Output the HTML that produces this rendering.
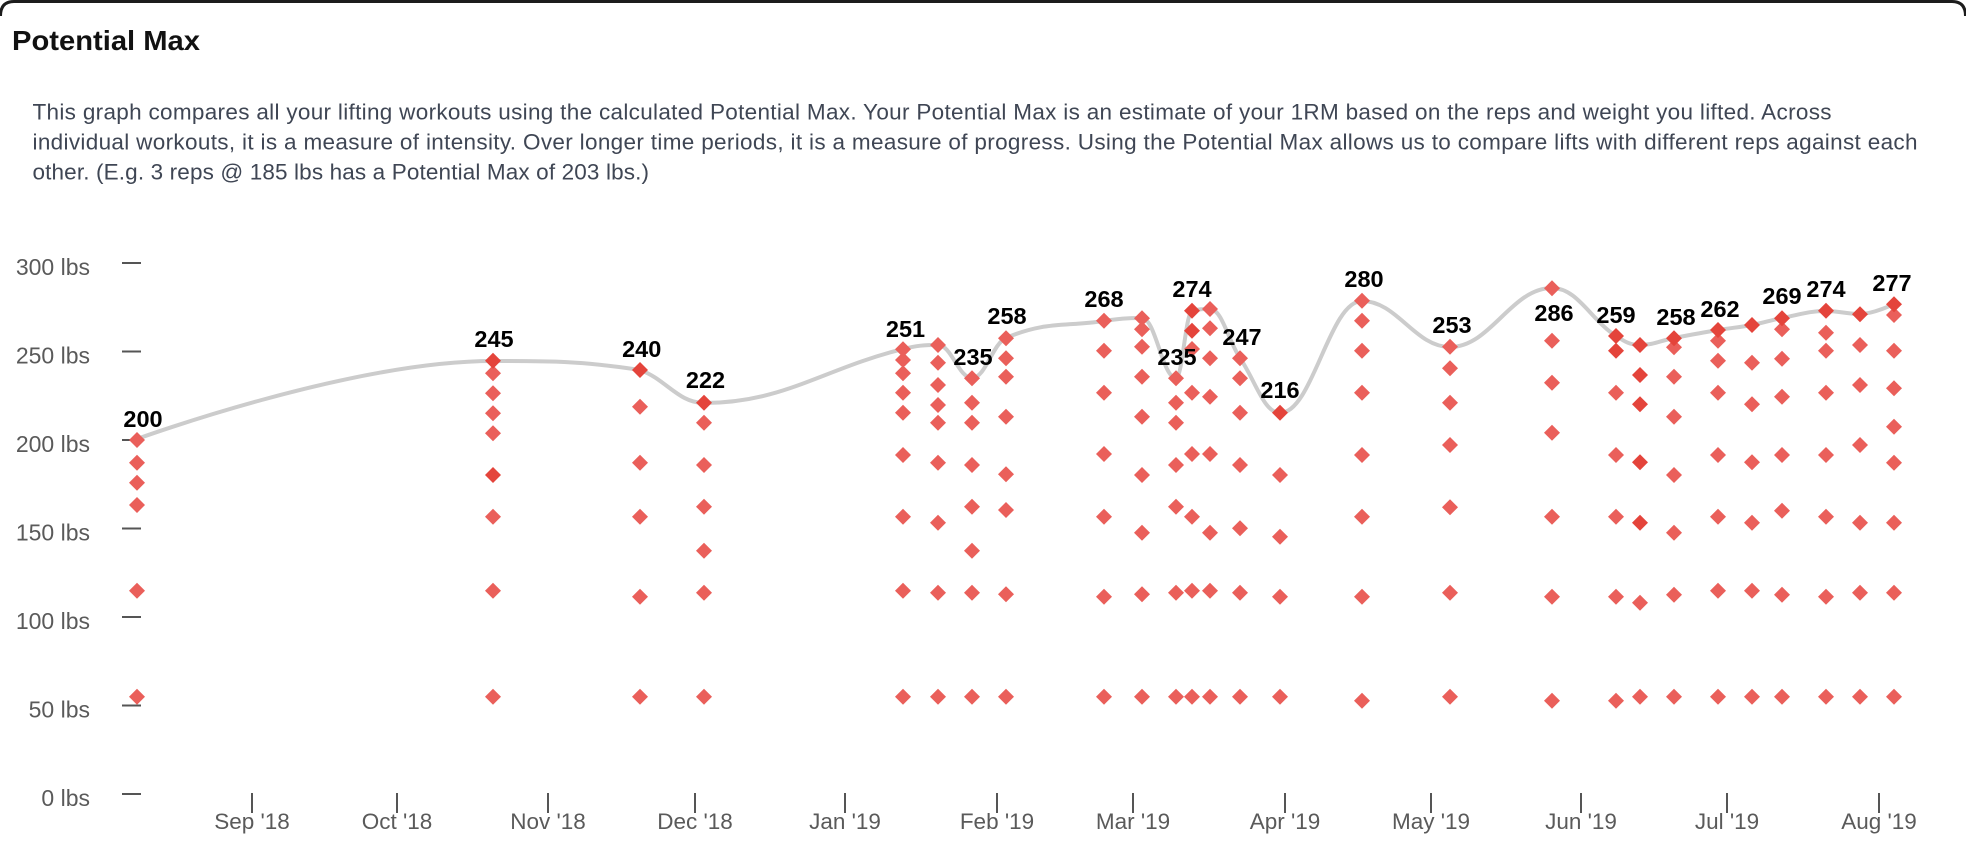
<!DOCTYPE html>
<html><head><meta charset="utf-8"><style>
html,body{margin:0;padding:0;background:#fff;width:1966px;height:853px;overflow:hidden;}
svg{display:block;}
</style></head><body>
<svg width="1966" height="853" viewBox="0 0 1966 853" xmlns="http://www.w3.org/2000/svg">
<rect x="0" y="0" width="1966" height="853" fill="#fff"/>
<path d="M0.5,16 Q0.5,1.5 14,1.5 L1952,1.5 Q1965.5,1.5 1965.5,16" fill="none" stroke="#1c1c1c" stroke-width="3"/>
<text x="12" y="50" font-family="Liberation Sans, sans-serif" font-weight="bold" font-size="28" fill="#111" textLength="188" lengthAdjust="spacingAndGlyphs">Potential Max</text>
<g font-family="Liberation Sans, sans-serif" font-size="22.5" fill="#3f4654">
<text x="32.5" y="119.5" textLength="1799" lengthAdjust="spacing">This graph compares all your lifting workouts using the calculated Potential Max. Your Potential Max is an estimate of your 1RM based on the reps and weight you lifted. Across</text>
<text x="32.5" y="149.5" textLength="1885" lengthAdjust="spacing">individual workouts, it is a measure of intensity. Over longer time periods, it is a measure of progress. Using the Potential Max allows us to compare lifts with different reps against each</text>
<text x="32.5" y="179.5" textLength="616.5" lengthAdjust="spacing">other. (E.g. 3 reps @ 185 lbs has a Potential Max of 203 lbs.)</text>
</g>
<g stroke="#555" stroke-width="2">
<line x1="122" y1="263" x2="141" y2="263"/>
<line x1="122" y1="351.5" x2="141" y2="351.5"/>
<line x1="122" y1="440" x2="141" y2="440"/>
<line x1="122" y1="528.5" x2="141" y2="528.5"/>
<line x1="122" y1="617" x2="141" y2="617"/>
<line x1="122" y1="705.5" x2="141" y2="705.5"/>
<line x1="122" y1="794" x2="141" y2="794"/>
<line x1="252" y1="793" x2="252" y2="813"/>
<line x1="397" y1="793" x2="397" y2="813"/>
<line x1="548" y1="793" x2="548" y2="813"/>
<line x1="695" y1="793" x2="695" y2="813"/>
<line x1="845" y1="793" x2="845" y2="813"/>
<line x1="997" y1="793" x2="997" y2="813"/>
<line x1="1133" y1="793" x2="1133" y2="813"/>
<line x1="1285" y1="793" x2="1285" y2="813"/>
<line x1="1431" y1="793" x2="1431" y2="813"/>
<line x1="1581" y1="793" x2="1581" y2="813"/>
<line x1="1727" y1="793" x2="1727" y2="813"/>
<line x1="1879" y1="793" x2="1879" y2="813"/>
</g>
<g font-family="Liberation Sans, sans-serif" font-size="23" fill="#5a5a5a" text-anchor="end">
<text x="90" y="275">300 lbs</text>
<text x="90" y="363.5">250 lbs</text>
<text x="90" y="452">200 lbs</text>
<text x="90" y="540.5">150 lbs</text>
<text x="90" y="629">100 lbs</text>
<text x="90" y="717.5">50 lbs</text>
<text x="90" y="806">0 lbs</text>
</g>
<g font-family="Liberation Sans, sans-serif" font-size="22.5" fill="#5a5a5a" text-anchor="middle">
<text x="252" y="829">Sep '18</text>
<text x="397" y="829">Oct '18</text>
<text x="548" y="829">Nov '18</text>
<text x="695" y="829">Dec '18</text>
<text x="845" y="829">Jan '19</text>
<text x="997" y="829">Feb '19</text>
<text x="1133" y="829">Mar '19</text>
<text x="1285" y="829">Apr '19</text>
<text x="1431" y="829">May '19</text>
<text x="1581" y="829">Jun '19</text>
<text x="1727" y="829">Jul '19</text>
<text x="1879" y="829">Aug '19</text>
</g>
<path fill="none" stroke="#cccccc" stroke-width="4" stroke-linecap="round" d="M137,439 C137,439 350.6,361 493,361 C551.8,361 581.2,361 640,370 C665.6,379 678.4,403 704,403 C783.6,403 823.4,368.7 903,349 C917,345.5 924,345 938,345 C951.6,345 958.4,378 972,378 C985.6,378 992.4,343.9 1006,338 C1045.2,321.1 1064.8,326.8 1104,321 C1119.2,318.8 1126.8,318 1142,318 C1155.6,318 1162.4,378 1176,378 C1182.4,378 1185.6,313 1192,311 C1199.2,309 1202.8,309 1210,309 C1222,309 1228,340.2 1240,358 C1256,381.8 1264,413 1280,413 C1312.8,413 1329.2,301 1362,301 C1397.2,301 1414.8,347 1450,347 C1490.8,347 1511.2,288 1552,288 C1577.6,288 1590.4,319.4 1616,336 C1625.6,342.2 1630.4,345 1640,345 C1653.6,345 1660.4,340.6 1674,338 C1691.6,334.6 1700.4,332.9 1718,330 C1731.6,327.7 1738.4,327.6 1752,325 C1764,322.75 1770,320.3 1782,318 C1799.6,314.7 1808.4,311 1826,311 C1839.6,311 1846.4,314 1860,314 C1873.6,314 1894,304 1894,304"/>
<path fill="#ea5f5a" d="
M137 432l8 8-8 8-8-8z M137 454.7l8 8-8 8-8-8z M137 474.7l8 8-8 8-8-8z M137 497l8 8-8 8-8-8z M137 582.7l8 8-8 8-8-8z M137 688.7l8 8-8 8-8-8z
M493 365.3l8 8-8 8-8-8z M493 385.3l8 8-8 8-8-8z M493 405.3l8 8-8 8-8-8z M493 425.3l8 8-8 8-8-8z M493 508.7l8 8-8 8-8-8z M493 582.7l8 8-8 8-8-8z M493 688.7l8 8-8 8-8-8z
M640 398.7l8 8-8 8-8-8z M640 454.7l8 8-8 8-8-8z M640 508.7l8 8-8 8-8-8z M640 588.7l8 8-8 8-8-8z M640 688.7l8 8-8 8-8-8z
M704 414.7l8 8-8 8-8-8z M704 457l8 8-8 8-8-8z M704 498.7l8 8-8 8-8-8z M704 542.7l8 8-8 8-8-8z M704 584.7l8 8-8 8-8-8z M704 688.7l8 8-8 8-8-8z
M903 341.3l8 8-8 8-8-8z M903 352l8 8-8 8-8-8z M903 365.3l8 8-8 8-8-8z M903 384.7l8 8-8 8-8-8z M903 404.7l8 8-8 8-8-8z M903 447l8 8-8 8-8-8z M903 508.7l8 8-8 8-8-8z M903 582.7l8 8-8 8-8-8z M903 688.7l8 8-8 8-8-8z
M938 337l8 8-8 8-8-8z M938 354.7l8 8-8 8-8-8z M938 377l8 8-8 8-8-8z M938 397l8 8-8 8-8-8z M938 414.7l8 8-8 8-8-8z M938 454.7l8 8-8 8-8-8z M938 514.7l8 8-8 8-8-8z M938 584.7l8 8-8 8-8-8z M938 688.7l8 8-8 8-8-8z
M972 370.3l8 8-8 8-8-8z M972 394.7l8 8-8 8-8-8z M972 414.7l8 8-8 8-8-8z M972 457l8 8-8 8-8-8z M972 498.7l8 8-8 8-8-8z M972 542.7l8 8-8 8-8-8z M972 584.7l8 8-8 8-8-8z M972 688.7l8 8-8 8-8-8z
M1006 330.3l8 8-8 8-8-8z M1006 350.3l8 8-8 8-8-8z M1006 368.7l8 8-8 8-8-8z M1006 408.7l8 8-8 8-8-8z M1006 466.3l8 8-8 8-8-8z M1006 502l8 8-8 8-8-8z M1006 586.3l8 8-8 8-8-8z M1006 688.7l8 8-8 8-8-8z
M1104 312.7l8 8-8 8-8-8z M1104 342.7l8 8-8 8-8-8z M1104 384.7l8 8-8 8-8-8z M1104 446l8 8-8 8-8-8z M1104 508.7l8 8-8 8-8-8z M1104 588.7l8 8-8 8-8-8z M1104 688.7l8 8-8 8-8-8z
M1142 310.3l8 8-8 8-8-8z M1142 321.3l8 8-8 8-8-8z M1142 338.7l8 8-8 8-8-8z M1142 368.7l8 8-8 8-8-8z M1142 408.7l8 8-8 8-8-8z M1142 467l8 8-8 8-8-8z M1142 524.7l8 8-8 8-8-8z M1142 586.3l8 8-8 8-8-8z M1142 688.7l8 8-8 8-8-8z
M1176 370.3l8 8-8 8-8-8z M1176 394.7l8 8-8 8-8-8z M1176 414.7l8 8-8 8-8-8z M1176 457l8 8-8 8-8-8z M1176 498.7l8 8-8 8-8-8z M1176 584.7l8 8-8 8-8-8z M1176 688.7l8 8-8 8-8-8z
M1192 341l8 8-8 8-8-8z M1192 384.7l8 8-8 8-8-8z M1192 446l8 8-8 8-8-8z M1192 508.7l8 8-8 8-8-8z M1192 582.7l8 8-8 8-8-8z M1192 688.7l8 8-8 8-8-8z
M1210 301l8 8-8 8-8-8z M1210 320.3l8 8-8 8-8-8z M1210 350.3l8 8-8 8-8-8z M1210 388.7l8 8-8 8-8-8z M1210 446l8 8-8 8-8-8z M1210 524.7l8 8-8 8-8-8z M1210 582.7l8 8-8 8-8-8z M1210 688.7l8 8-8 8-8-8z
M1240 350.3l8 8-8 8-8-8z M1240 370.3l8 8-8 8-8-8z M1240 404.7l8 8-8 8-8-8z M1240 457l8 8-8 8-8-8z M1240 520.3l8 8-8 8-8-8z M1240 584.7l8 8-8 8-8-8z M1240 688.7l8 8-8 8-8-8z
M1280 467l8 8-8 8-8-8z M1280 528.7l8 8-8 8-8-8z M1280 588.7l8 8-8 8-8-8z M1280 688.7l8 8-8 8-8-8z
M1362 292.7l8 8-8 8-8-8z M1362 312.7l8 8-8 8-8-8z M1362 342.7l8 8-8 8-8-8z M1362 384.7l8 8-8 8-8-8z M1362 447l8 8-8 8-8-8z M1362 508.7l8 8-8 8-8-8z M1362 588.7l8 8-8 8-8-8z M1362 692.7l8 8-8 8-8-8z
M1450 338.7l8 8-8 8-8-8z M1450 360.3l8 8-8 8-8-8z M1450 394.7l8 8-8 8-8-8z M1450 437l8 8-8 8-8-8z M1450 499.3l8 8-8 8-8-8z M1450 584.7l8 8-8 8-8-8z M1450 688.7l8 8-8 8-8-8z
M1552 280.3l8 8-8 8-8-8z M1552 332.7l8 8-8 8-8-8z M1552 374.7l8 8-8 8-8-8z M1552 424.7l8 8-8 8-8-8z M1552 508.7l8 8-8 8-8-8z M1552 588.7l8 8-8 8-8-8z M1552 692.7l8 8-8 8-8-8z
M1616 384.7l8 8-8 8-8-8z M1616 447l8 8-8 8-8-8z M1616 508.7l8 8-8 8-8-8z M1616 588.7l8 8-8 8-8-8z M1616 692.7l8 8-8 8-8-8z
M1640 594.7l8 8-8 8-8-8z M1640 688.7l8 8-8 8-8-8z
M1674 339.3l8 8-8 8-8-8z M1674 368.7l8 8-8 8-8-8z M1674 408.7l8 8-8 8-8-8z M1674 467l8 8-8 8-8-8z M1674 524.7l8 8-8 8-8-8z M1674 586.7l8 8-8 8-8-8z M1674 688.7l8 8-8 8-8-8z
M1718 332.7l8 8-8 8-8-8z M1718 352.7l8 8-8 8-8-8z M1718 384.7l8 8-8 8-8-8z M1718 447l8 8-8 8-8-8z M1718 508.7l8 8-8 8-8-8z M1718 582.7l8 8-8 8-8-8z M1718 688.7l8 8-8 8-8-8z
M1752 354.7l8 8-8 8-8-8z M1752 396.3l8 8-8 8-8-8z M1752 454.3l8 8-8 8-8-8z M1752 514.7l8 8-8 8-8-8z M1752 582.7l8 8-8 8-8-8z M1752 688.7l8 8-8 8-8-8z
M1782 321.3l8 8-8 8-8-8z M1782 350.7l8 8-8 8-8-8z M1782 388.7l8 8-8 8-8-8z M1782 447l8 8-8 8-8-8z M1782 502.7l8 8-8 8-8-8z M1782 586.7l8 8-8 8-8-8z M1782 688.7l8 8-8 8-8-8z
M1826 324.7l8 8-8 8-8-8z M1826 342.7l8 8-8 8-8-8z M1826 384.7l8 8-8 8-8-8z M1826 447l8 8-8 8-8-8z M1826 508.7l8 8-8 8-8-8z M1826 588.7l8 8-8 8-8-8z M1826 688.7l8 8-8 8-8-8z
M1860 337l8 8-8 8-8-8z M1860 377l8 8-8 8-8-8z M1860 437l8 8-8 8-8-8z M1860 514.7l8 8-8 8-8-8z M1860 584.7l8 8-8 8-8-8z M1860 688.7l8 8-8 8-8-8z
M1894 307l8 8-8 8-8-8z M1894 342.7l8 8-8 8-8-8z M1894 380.3l8 8-8 8-8-8z M1894 418.7l8 8-8 8-8-8z M1894 454.7l8 8-8 8-8-8z M1894 514.7l8 8-8 8-8-8z M1894 584.7l8 8-8 8-8-8z M1894 688.7l8 8-8 8-8-8z
"/>
<path fill="#e4443b" d="
M493 352.7l8 8-8 8-8-8z M493 467l8 8-8 8-8-8z
M640 362l8 8-8 8-8-8z
M704 394.7l8 8-8 8-8-8z
M1192 302.7l8 8-8 8-8-8z M1192 322.7l8 8-8 8-8-8z
M1280 404.7l8 8-8 8-8-8z
M1616 328l8 8-8 8-8-8z M1616 342.7l8 8-8 8-8-8z
M1640 337l8 8-8 8-8-8z M1640 367l8 8-8 8-8-8z M1640 396.3l8 8-8 8-8-8z M1640 454.3l8 8-8 8-8-8z M1640 514.7l8 8-8 8-8-8z
M1674 330.3l8 8-8 8-8-8z
M1718 322l8 8-8 8-8-8z
M1752 317l8 8-8 8-8-8z
M1782 310.3l8 8-8 8-8-8z
M1826 302.7l8 8-8 8-8-8z
M1860 306.3l8 8-8 8-8-8z
M1894 296.3l8 8-8 8-8-8z
"/>
<g font-family="Liberation Sans, sans-serif" font-weight="bold" font-size="23.5" fill="#000" text-anchor="middle">
<text x="143" y="427">200</text>
<text x="494" y="347">245</text>
<text x="641.7" y="357">240</text>
<text x="705.5" y="388">222</text>
<text x="905.5" y="337">251</text>
<text x="973" y="365">235</text>
<text x="1007" y="324">258</text>
<text x="1104" y="307">268</text>
<text x="1177" y="365">235</text>
<text x="1192" y="297">274</text>
<text x="1242" y="345">247</text>
<text x="1280" y="398">216</text>
<text x="1364" y="287">280</text>
<text x="1452" y="333">253</text>
<text x="1554" y="321">286</text>
<text x="1616" y="323">259</text>
<text x="1676" y="325">258</text>
<text x="1720" y="317">262</text>
<text x="1782" y="304">269</text>
<text x="1826" y="297">274</text>
<text x="1892" y="291">277</text>
</g>
</svg>
</body></html>
